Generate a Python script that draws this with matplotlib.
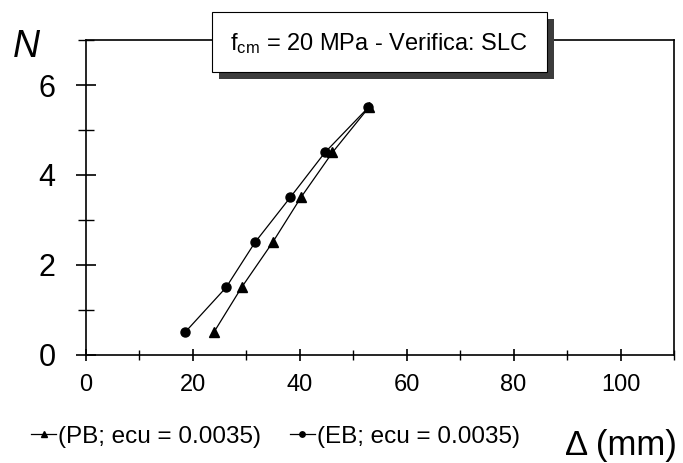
import matplotlib
matplotlib.use("Agg")
import matplotlib.pyplot as plt
from matplotlib.patches import Rectangle
from matplotlib.ticker import MultipleLocator

# dati
N = [0.5, 1.5, 2.5, 3.5, 4.5, 5.5]
delta_pb = [23.9, 29.1, 34.9, 40.2, 46.1, 52.9]
delta_eb = [18.5, 26.2, 31.6, 38.2, 44.7, 52.8]
label_pb = "(PB; ecu = 0.0035)"
label_eb = "(EB; ecu = 0.0035)"
titolo = r"f$_{\mathrm{cm}}$ = 20 MPa - Verifica: SLC"


def main():
    plt.rcParams['font.family'] = ['Liberation Sans', 'DejaVu Sans']
    plt.rcParams['mathtext.fontset'] = 'custom'
    plt.rcParams['mathtext.rm'] = 'Liberation Sans'
    plt.rcParams['mathtext.it'] = 'Liberation Sans:italic'

    fig = plt.figure(figsize=(6.83, 4.63), dpi=100)
    ax = fig.add_axes([0.1259, 0.2333, 0.8609, 0.6803])

    ax.plot(delta_pb, N, color='black', lw=0.9, marker='^', ms=6.5, label=label_pb)
    ax.plot(delta_eb, N, color='black', lw=0.9, marker='o', ms=6.5, label=label_eb)

    ax.set_xlim(0, 110)
    ax.set_ylim(0, 7)
    ax.xaxis.set_major_locator(MultipleLocator(20))
    ax.xaxis.set_minor_locator(MultipleLocator(10))
    ax.yaxis.set_major_locator(MultipleLocator(2))
    ax.yaxis.set_minor_locator(MultipleLocator(1))
    ax.xaxis.set_major_formatter(lambda v, p: '' if v > 100 else f'{v:.0f}')

    for s in ax.spines.values():
        s.set_linewidth(1.2)
    ax.tick_params(axis='x', which='major', direction='inout', length=9, width=1.2,
                   labelsize=17, pad=9, top=False)
    ax.tick_params(axis='x', which='minor', direction='inout', length=7, width=1.0)
    ax.tick_params(axis='y', which='major', direction='inout', length=14, width=1.2,
                   labelsize=22, pad=15, right=False)
    ax.tick_params(axis='y', which='minor', direction='inout', length=11.5, width=1.0)

    # riquadro del titolo con ombra
    x0, y0, w, h = 0.310, 0.8451, 0.4905, 0.1296
    fig.patches.append(Rectangle((x0 + 0.0105, y0 - 0.0151), w, h, transform=fig.transFigure,
                                 facecolor='#3c3c3c', edgecolor='none', zorder=5))
    fig.patches.append(Rectangle((x0, y0), w, h, transform=fig.transFigure,
                                 facecolor='white', edgecolor='black', lw=0.8, zorder=6))
    fig.text(x0 + w / 2, 0.905, titolo, ha='center', va='center', fontsize=17, zorder=7)

    fig.text(0.019, 0.8776, 'N', fontsize=27, style='italic', ha='left', va='baseline')
    fig.text(0.827, 0.0173, 'Δ (mm)', fontsize=25, ha='left', va='baseline')

    fig.legend(loc='center left', bbox_to_anchor=(0.046, 0.0568), ncol=2, frameon=False,
               fontsize=17.5, handlelength=1.0, handletextpad=0.1, columnspacing=1.2,
               borderpad=0, borderaxespad=0, markerscale=0.6)

    fig.savefig('out.png', dpi=100)


if __name__ == "__main__":
    main()
